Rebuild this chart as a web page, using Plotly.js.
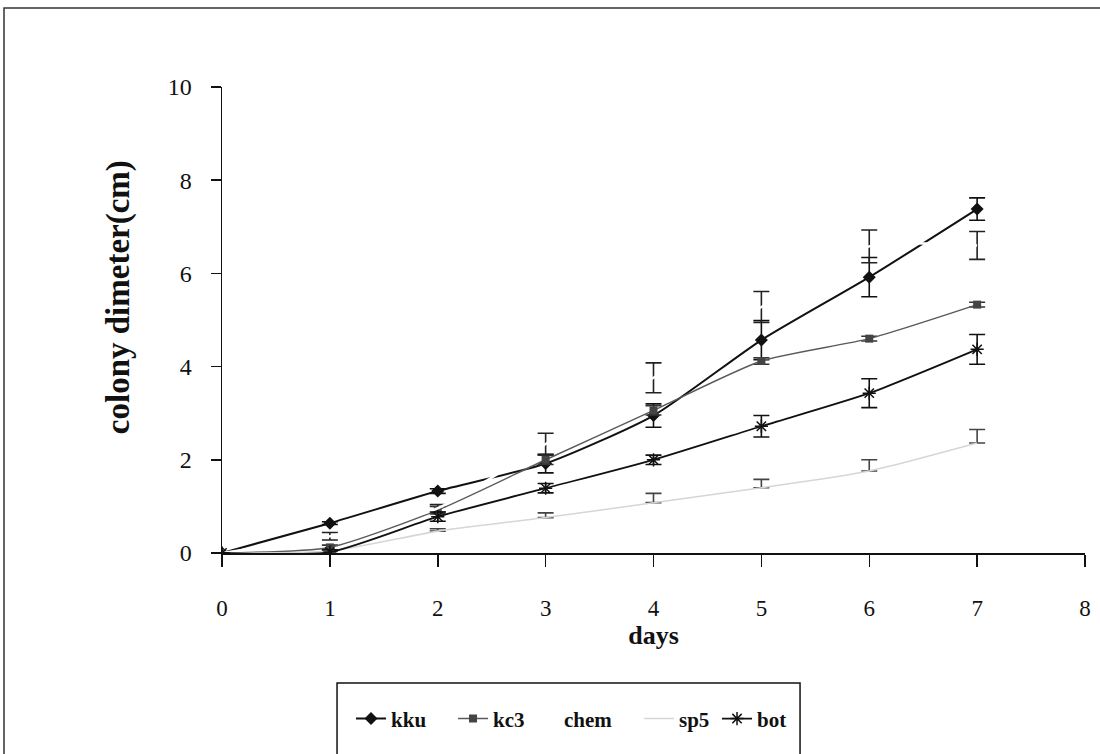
<!DOCTYPE html>
<html>
<head>
<meta charset="utf-8">
<script src="https://cdn.plot.ly/plotly-3.0.1.min.js"></script>
<style>
  html, body { margin: 0; padding: 0; background: #fff; }
  #chart { width: 1100px; height: 754px; }
</style>
</head>
<body>
<div id="chart"></div>
<script>
// Colony diameter (cm) of five isolates measured daily
const days = [0, 1, 2, 3, 4, 5, 6, 7];

const kku    = [0, 0.64, 1.33, 1.92, 2.95, 4.57, 5.92, 7.38];
const kkuErr = [0, 0.03, 0.05, 0.20, 0.25, 0.42, 0.42, 0.24];

const kc3    = [0, 0.12, 0.92, 2.00, 3.06, 4.12, 4.60, 5.33];
const kc3Err = [0, 0.05, 0.08, 0.10, 0.10, 0.07, 0.05, 0.05];

const chem    = [0, 0.36, 0.96, 2.34, 3.76, 5.28, 6.58, 6.60];
const chemErr = [0, 0.08, 0.08, 0.23, 0.32, 0.33, 0.35, 0.30];

const sp5    = [0, 0.04, 0.47, 0.76, 1.08, 1.40, 1.76, 2.36];
const sp5Err = [0, 0.00, 0.05, 0.10, 0.20, 0.18, 0.24, 0.29];

const bot    = [0, 0.02, 0.78, 1.39, 2.00, 2.72, 3.43, 4.37];
const botErr = [0, 0.05, 0.10, 0.10, 0.10, 0.23, 0.31, 0.32];

const seriesNames = ['kku', 'kc3', 'chem', 'sp5', 'bot'];
const yTitle = 'colony dimeter(cm)';
const xTitle = 'days';

const serif = 'Liberation Serif, Times New Roman, serif';

function errBars(arr, color, plusOnly) {
  const e = { type: 'data', array: arr, visible: true, color: color, thickness: 1.6, width: 8 };
  if (plusOnly) { e.symmetric = false; e.arrayminus = arr.map(() => 0); }
  return e;
}

const traces = [
  {
    name: seriesNames[0], x: days, y: kku, mode: 'lines+markers', legend: 'legend',
    line: { color: '#111', width: 2, shape: 'spline', smoothing: 0.6 },
    marker: { symbol: 'diamond', size: 10, color: '#111' },
    error_y: errBars(kkuErr, '#111')
  },
  {
    name: seriesNames[1], x: days, y: kc3, mode: 'lines+markers', legend: 'legend2',
    line: { color: '#5a5a5a', width: 1.5, shape: 'spline', smoothing: 0.6 },
    marker: { symbol: 'square', size: 8, color: '#444' },
    error_y: errBars(kc3Err, '#333')
  },
  {
    name: seriesNames[2], x: days, y: chem, mode: 'lines', legend: 'legend3',
    line: { color: '#ffffff', width: 2.5, shape: 'spline', smoothing: 0.6 },
    error_y: errBars(chemErr, '#222')
  },
  {
    name: seriesNames[3], x: days, y: sp5, mode: 'lines', legend: 'legend4',
    line: { color: '#d6d6d6', width: 1.6, shape: 'spline', smoothing: 0.6 },
    error_y: errBars(sp5Err, '#444', true)
  },
  {
    name: seriesNames[4], x: days, y: bot, mode: 'lines+markers', legend: 'legend5',
    line: { color: '#111', width: 1.8, shape: 'spline', smoothing: 0.6 },
    marker: { symbol: 'asterisk-open', size: 11, color: '#111', line: { color: '#111', width: 1.5 } },
    error_y: errBars(botErr, '#111')
  }
];

// one legend per entry so the row keeps its uneven spacing
function legendAt(x) {
  return {
    orientation: 'h', x: x, xanchor: 'left', y: -0.356, yanchor: 'middle',
    bgcolor: 'rgba(0,0,0,0)', borderwidth: 0,
    font: { family: serif, size: 21, color: '#111', weight: 'bold' }
  };
}

const layout = {
  width: 1100, height: 754,
  margin: { l: 222, r: 15, t: 87, b: 201 },
  paper_bgcolor: '#fff', plot_bgcolor: '#fff',
  font: { family: serif, size: 22, color: '#111' },
  showlegend: true,
  xaxis: {
    range: [0, 8], dtick: 1, tick0: 0,
    showgrid: false, zeroline: false,
    showline: true, linecolor: '#111', linewidth: 1.5,
    ticks: 'outside', ticklen: 12, tickwidth: 1.5, tickcolor: '#111',
    ticklabelstandoff: 22,
    tickfont: { family: serif, size: 23, color: '#111' },
    title: { text: '<b>' + xTitle + '</b>', font: { family: serif, size: 26, color: '#111' }, standoff: 0 }
  },
  yaxis: {
    range: [0, 10], dtick: 2, tick0: 0,
    showgrid: false, zeroline: false,
    showline: true, linecolor: '#111', linewidth: 1.5,
    ticks: 'outside', ticklen: 10, tickwidth: 1.5, tickcolor: '#111',
    ticklabelstandoff: 14,
    tickfont: { family: serif, size: 24, color: '#111' }
  },
  // vertical axis caption sits a little above the plot's middle
  annotations: [
    {
      text: '<b>' + yTitle + '</b>', textangle: -90,
      xref: 'paper', yref: 'paper', x: -0.1205, y: 0.549,
      xanchor: 'center', yanchor: 'middle', showarrow: false,
      font: { family: serif, size: 33, color: '#111' }
    }
  ],
  legend:  legendAt(0.1495),
  legend2: legendAt(0.2677),
  legend3: legendAt(0.350),
  legend4: legendAt(0.4832),
  legend5: legendAt(0.5736),
  shapes: [
    {
      type: 'rect', xref: 'paper', yref: 'paper',
      x0: -0.2526, x1: 1.06, y0: -0.6, y1: 1.1695,
      line: { color: '#333', width: 1.5 }
    },
    {
      type: 'rect', xref: 'paper', yref: 'paper',
      x0: 0.1333, x1: 0.6698, y0: -0.6, y1: -0.279,
      line: { color: '#111', width: 1.5 }, fillcolor: 'rgba(0,0,0,0)', layer: 'below'
    }
  ]
};

Plotly.newPlot('chart', traces, layout, { displayModeBar: false, staticPlot: true });
</script>
</body>
</html>
